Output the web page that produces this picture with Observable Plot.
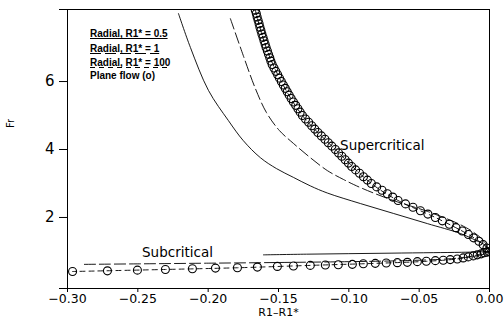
<!DOCTYPE html>
<html><head><meta charset="utf-8">
<script src="https://cdn.jsdelivr.net/npm/d3@7"></script>
<script src="https://cdn.jsdelivr.net/npm/@observablehq/plot@0.6"></script>
<style>body{margin:0;background:#fff}svg{display:block}</style>
</head><body><div id="chart"></div>
<script>
// ---- axes ----
const xTicks = [-0.30, -0.25, -0.20, -0.15, -0.10, -0.05, 0.00];
const yTicks = [2, 4, 6];
const xLabel = "R1\u2013R1*";
const yLabel = "Fr";

// ---- Radial, R1* = 0.5 (solid) ----
const r05UpperX  = [-0.2211, -0.2126, -0.1998, -0.1856, -0.1750, -0.1629, -0.1515, -0.1394, -0.1274, -0.1153, -0.0918, -0.0684, -0.0442, -0.0208, -0.0094, -0.0030, 0];
const r05UpperFr = [8.0, 7.0, 5.74, 4.85, 4.26, 3.76, 3.44, 3.18, 2.93, 2.72, 2.41, 2.12, 1.82, 1.53, 1.32, 1.18, 1.0];
const r05LowerX  = [-0.1607, -0.13, -0.10, -0.07, -0.04, -0.02, -0.005, 0];
const r05LowerFr = [0.90, 0.92, 0.935, 0.95, 0.965, 0.975, 0.99, 1.0];

// ---- Radial, R1* = 1 (long dash) ----
const r1UpperX  = [-0.1842, -0.1750, -0.1664, -0.1586, -0.1494, -0.1394, -0.1274, -0.1153, -0.1039, -0.0918, -0.0684, -0.0442, -0.0208, -0.0101, -0.0037, 0];
const r1UpperFr = [7.85, 6.76, 5.79, 5.09, 4.56, 4.18, 3.76, 3.38, 3.12, 2.88, 2.50, 2.18, 1.79, 1.53, 1.29, 1.0];
const r1LowerX  = [-0.2886, -0.25, -0.20, -0.15, -0.10, -0.06, -0.03, -0.012, -0.004, 0];
const r1LowerFr = [0.62, 0.635, 0.655, 0.675, 0.70, 0.73, 0.78, 0.85, 0.92, 1.0];

// ---- Radial, R1* = 100 (short dash, follows plane flow) ----
const r100X  = [-0.1665, -0.1588, -0.148, -0.133, -0.1096, -0.084, -0.065, -0.0385, -0.015, -0.0075, -0.003, 0, -0.0037, -0.0087, -0.0151, -0.0229, -0.0449, -0.0812, -0.1274, -0.1792, -0.2304, -0.2964];
const r100Fr = [8.1, 7.0, 6.0, 5.0, 4.0, 3.0, 2.5, 2.0, 1.5, 1.3, 1.15, 1.0, 0.96, 0.90, 0.84, 0.78, 0.71, 0.65, 0.59, 0.52, 0.47, 0.41];

// ---- Plane flow (o) ----
const planeUpperFr = [1.1,1.2,1.3,1.4,1.5,1.6,1.7,1.8,1.9,2.0,
  2.1,2.2,2.3,2.4,2.5,2.6,2.7,2.8,2.9,3.0,
  3.1,3.2,3.3,3.4,3.5,3.6,3.7,3.8,3.9,4.0,
  4.1,4.2,4.3,4.4,4.5,4.6,4.7,4.8,4.9,5.0,
  5.1,5.2,5.3,5.4,5.5,5.6,5.7,5.8,5.9,6.0,
  6.1,6.2,6.3,6.4,6.5,6.6,6.7,6.8,6.9,7.0,
  7.1,7.2,7.3,7.4,7.5,7.6,7.7,7.8,7.9,8.0,8.1];
const planeUpperX = [-0.0018,-0.0045,-0.0075,-0.0113,-0.015,-0.0194,-0.0238,-0.0285,-0.0335,-0.0385,
  -0.0438,-0.0491,-0.0544,-0.0597,-0.065,-0.0688,-0.0726,-0.0764,-0.0802,-0.084,
  -0.0868,-0.0896,-0.0924,-0.0952,-0.098,-0.1003,-0.1026,-0.105,-0.1073,-0.1096,
  -0.1121,-0.1146,-0.117,-0.1195,-0.122,-0.1242,-0.1264,-0.1286,-0.1308,-0.133,
  -0.1346,-0.1362,-0.1378,-0.1394,-0.141,-0.1424,-0.1438,-0.1452,-0.1466,-0.148,
  -0.1493,-0.1506,-0.1519,-0.1532,-0.1545,-0.1554,-0.1562,-0.1571,-0.1579,-0.1588,
  -0.1595,-0.1603,-0.161,-0.1618,-0.1625,-0.1632,-0.1638,-0.1645,-0.1652,-0.1658,-0.1665];
const planeLowerX = [-0.2964,-0.2716,-0.2503,-0.2304,-0.2112,-0.1948,-0.1792,-0.1650,-0.1508,-0.1394,
  -0.1274,-0.1167,-0.1075,-0.0975,-0.0897,-0.0812,-0.0734,-0.0655,-0.0584,-0.0513,
  -0.0449,-0.0385,-0.0329,-0.0279,-0.0229,-0.0187,-0.0151,-0.0115,-0.0087,-0.0059,
  -0.0037,-0.0016,0];
const planeLowerFr = [0.41,0.43,0.45,0.47,0.49,0.51,0.52,0.54,0.56,0.57,
  0.59,0.60,0.61,0.62,0.64,0.65,0.66,0.67,0.68,0.70,
  0.71,0.73,0.74,0.76,0.78,0.81,0.84,0.87,0.90,0.93,
  0.96,0.98,1.0];

// ---- annotations / legend ----
const regionLabels = ["Supercritical", "Subcritical"];
const regionX  = [-0.0762, -0.2218];
const regionFr = [4.12, 0.97];
const legendLabels = ["Radial, R1* = 0.5", "Radial, R1* = 1", "Radial, R1* = 100", "Plane flow (o)"];
const legendDash = ["none", "11,4", "5,4", null];

// ---- build tables ----
const pts = (xs, ys) => xs.map((x, i) => ({x, fr: ys[i]}));
const r05 = pts(r05UpperX, r05UpperFr).concat(pts(r05LowerX, r05LowerFr).reverse());
const r1 = pts(r1UpperX, r1UpperFr).concat(pts(r1LowerX, r1LowerFr).reverse());
const r100 = pts(r100X, r100Fr);
const plane = pts(planeUpperX, planeUpperFr).concat(pts(planeLowerX, planeLowerFr));
const regions = regionLabels.map((t, i) => ({t, x: regionX[i], fr: regionFr[i]}));

const yDomain = [-0.09, 8.12];
const fmtX = d => (d < 0 ? "\u2212" : "") + Math.abs(d).toFixed(2);
const fmtY = d => yTicks.includes(d) ? String(d) : "";

const chart = Plot.plot({
  width: 504, height: 327,
  marginLeft: 67, marginRight: 15, marginTop: 9, marginBottom: 39,
  style: {fontFamily: "DejaVu Sans", fontSize: "12.5px", background: "white", color: "black"},
  x: {domain: [-0.30, 0], ticks: xTicks, tickFormat: fmtX, tickSize: 4, tickPadding: 2, label: null},
  y: {domain: yDomain, ticks: [yDomain[0], ...yTicks, yDomain[1]], tickFormat: fmtY, tickSize: 8, tickPadding: 5, label: null},
  marks: [
    Plot.frame({stroke: "black", strokeWidth: 1}),
    Plot.line(r05, {x: "x", y: "fr", stroke: "black", strokeWidth: 0.9, curve: "catmull-rom", clip: true}),
    Plot.line(r1, {x: "x", y: "fr", stroke: "black", strokeWidth: 0.9, strokeDasharray: "11,4", curve: "catmull-rom", clip: true}),
    Plot.line(r100, {x: "x", y: "fr", stroke: "black", strokeWidth: 0.9, strokeDasharray: "5,4", curve: "catmull-rom", clip: true}),
    Plot.dot(plane, {x: "x", y: "fr", r: 4, stroke: "black", fill: "none", strokeWidth: 1.1, clip: true}),
    Plot.text(regions, {x: "x", y: "fr", text: "t", fontSize: 13.5, fill: "black"}),
    Plot.text([xLabel], {text: d => d, frameAnchor: "bottom", dy: 27, fontSize: 11, fill: "black"}),
    Plot.text([yLabel], {text: d => d, frameAnchor: "left", dx: -57, dy: -21, rotate: -90, fontSize: 10, fill: "black"})
  ]
});
document.getElementById("chart").appendChild(chart);

// bigger y tick labels
d3.select(chart).selectAll('g[aria-label^="y-axis"] text').attr("font-size", 15);

// legend (inside plot, top-left)
const lg = d3.select(chart).append("g")
  .attr("font-family", "Liberation Sans, Arial, sans-serif")
  .attr("font-weight", "bold").attr("font-size", 10).attr("fill", "black")
  .attr("text-anchor", "start");
const legendY = [33, 48, 62, 75];
legendLabels.forEach((lab, i) => {
  const t = lg.append("text").attr("x", 90).attr("y", legendY[i]).attr("dy", "0.35em")
    .attr("text-anchor", "start").text(lab);
  if (legendDash[i] !== null) {
    const w = t.node().getComputedTextLength();
    lg.append("line").attr("x1", 90).attr("x2", 90 + w)
      .attr("y1", legendY[i] + 5.5).attr("y2", legendY[i] + 5.5)
      .attr("stroke", "black").attr("stroke-width", 1)
      .attr("stroke-dasharray", legendDash[i] === "none" ? null : legendDash[i]);
  }
});
</script></body></html>
